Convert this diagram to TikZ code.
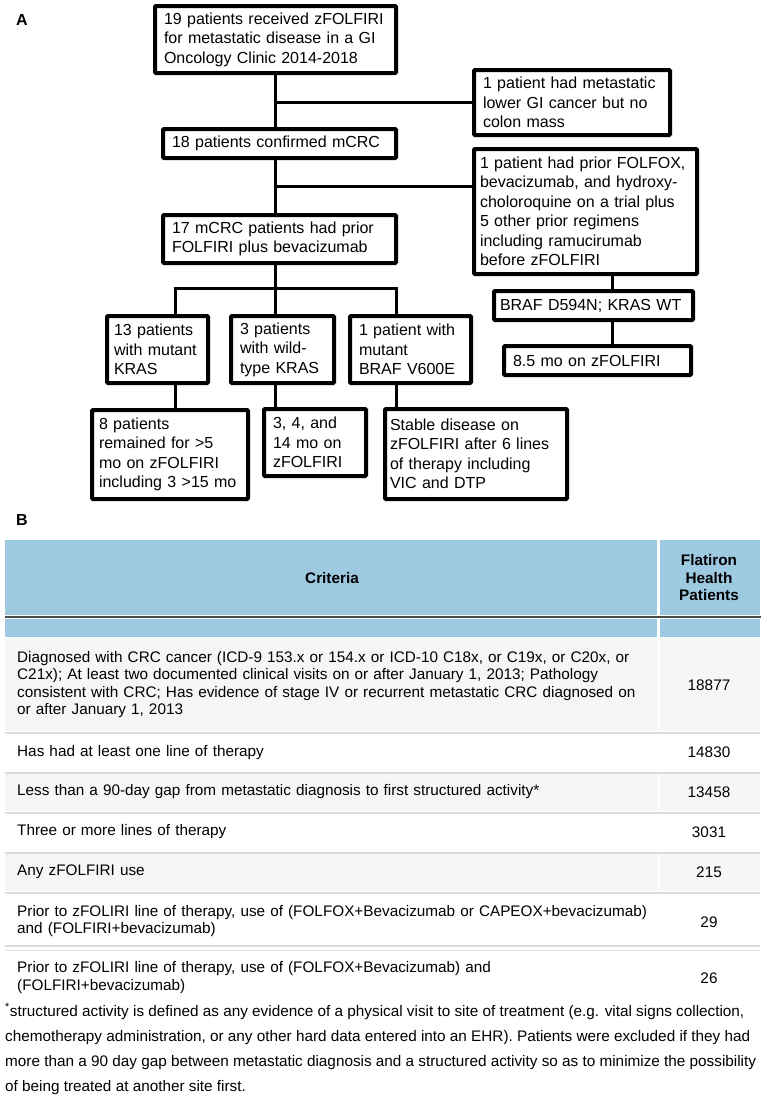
\documentclass[tikz,border=0pt]{standalone}
\usepackage{fontspec}
\setmainfont{Liberation Sans}
\usepackage{tikz}
\definecolor{headblue}{HTML}{9DC9E1}
\definecolor{rowgray}{HTML}{F6F6F6}
\definecolor{rulegray}{HTML}{DCDCDC}

\begin{document}
\begin{tikzpicture}[x=1pt,y=-1pt]
  \tikzstyle{FlowBox}=[draw,line width=4pt,rounded corners=1pt,fill=white,
    inner xsep=9pt,inner ysep=0pt,align=left,font=\fontsize{16}{19.5}\selectfont]
  \tikzstyle{Link}=[line width=3pt]
  \tikzstyle{Panel}=[inner sep=0pt,font=\fontsize{16}{19}\selectfont\bfseries]
  \tikzstyle{HeadText}=[inner sep=0pt,align=center,font=\fontsize{15.3}{17.5}\selectfont\bfseries]
  \tikzstyle{Cell}=[anchor=west,inner sep=0pt,align=left,text width=635pt,
    font=\fontsize{15.3}{17.5}\selectfont]
  \tikzstyle{Count}=[inner sep=0pt,font=\fontsize{15.3}{17.5}\selectfont]
  \tikzstyle{Note}=[anchor=base west,inner sep=0pt,font=\fontsize{15.3}{17.5}\selectfont]
  \useasboundingbox (0,0) rectangle (765,1114);

  % panel A: flow of patients
  \node[Panel] (labA) at (22,20) {A};
  \node[FlowBox,minimum width=241pt,minimum height=67pt,text width=223pt] (recv) at (275.5,39.5)
    {19 patients received zFOLFIRI\\for metastatic disease in a GI\\Oncology Clinic 2014-2018};
  \node[FlowBox,minimum width=196pt,minimum height=65pt,text width=178pt] (nomass) at (572,102.5)
    {1 patient had metastatic\\lower GI cancer but no\\colon mass};
  \node[FlowBox,minimum width=233pt,minimum height=29pt,text width=215pt] (conf) at (279.5,143.5)
    {18 patients confirmed mCRC};
  \node[FlowBox,minimum width=223pt,minimum height=125pt,text width=211pt,inner xsep=6pt] (prior) at (585.5,211.5)
    {1 patient had prior FOLFOX,\\bevacizumab, and hydroxy-\\choloroquine on a trial plus\\5 other prior regimens\\including ramucirumab\\before zFOLFIRI};
  \node[FlowBox,minimum width=233pt,minimum height=48pt,text width=215pt] (folfiri) at (279.5,239)
    {17 mCRC patients had prior\\FOLFIRI plus bevacizumab};
  \node[FlowBox,minimum width=101pt,minimum height=67pt,text width=87pt,inner xsep=7pt] (kras) at (157.5,349.5)
    {13 patients\\with mutant\\KRAS};
  \node[FlowBox,minimum width=103pt,minimum height=67pt,text width=85pt] (wt) at (282.5,349.5)
    {3 patients\\with wild-\\type KRAS};
  \node[FlowBox,minimum width=121pt,minimum height=67pt,text width=103pt] (braf) at (410.5,349.5)
    {1 patient with\\mutant\\BRAF V600E};
  \node[FlowBox,minimum width=156pt,minimum height=89pt,text width=142pt,inner xsep=7pt] (remain) at (170,454.5)
    {8 patients\\remained for >5\\mo on zFOLFIRI\\including 3 >15 mo};
  \node[FlowBox,minimum width=102pt,minimum height=67pt,text width=84pt] (mo) at (315,442.5)
    {3, 4, and\\14 mo on\\zFOLFIRI};
  \node[FlowBox,minimum width=182pt,minimum height=90pt,text width=172pt,inner xsep=5pt] (stable) at (476,454)
    {Stable disease on\\zFOLFIRI after 6 lines\\of therapy including\\VIC and DTP};
  \node[FlowBox,minimum width=199pt,minimum height=29pt,text width=187pt,inner xsep=6pt] (dsix) at (593.5,305.5)
    {BRAF D594N; KRAS WT};
  \node[FlowBox,minimum width=187pt,minimum height=29pt,text width=169pt] (moeight) at (597.5,360.5)
    {8.5 mo on zFOLFIRI};

  \coordinate (split) at (275.5,186);
  \coordinate (fork) at (275.5,288);
  \coordinate (forkL) at (175,288);
  \coordinate (forkR) at (396,288);
  \coordinate (side) at (612,276);
  \draw[Link] (recv.south) -- (recv.south |- conf.north);
  \draw[Link] (recv.south |- nomass.west) -- (nomass.west);
  \draw[Link] (recv.south |- conf.south) -- (recv.south |- folfiri.north);
  \draw[Link] (split) -- (split -| prior.west);
  \draw[Link] (recv.south |- folfiri.south) -- (fork);
  \draw[Link] (forkL |- kras.north) -- (forkL) -- (forkR) -- (forkR |- braf.north);
  \draw[Link] (fork) -- (fork |- wt.north);
  \draw[Link] (forkL |- kras.south) -- (forkL |- remain.north);
  \draw[Link] (fork |- wt.south) -- (fork |- mo.north);
  \draw[Link] (forkR |- braf.south) -- (forkR |- stable.north);
  \draw[Link] (side) -- (side |- dsix.north);
  \draw[Link] (side |- dsix.south) -- (side |- moeight.north);

  % panel B: selection table
  \node[Panel] (labB) at (22,520) {B};
  \fill[headblue] (5,540) rectangle (760,615);
  \fill[headblue] (5,619) rectangle (760,637);
  \draw[white,line width=2.5pt] (658.5,540) -- (658.5,637);
  \draw[black!70,line width=2pt] (5,617) -- (761,617);
  \foreach \top/\bot in {638/731,774/811,854/891}{
    \fill[rowgray] (5,\top) rectangle (760,\bot);
    \draw[white,line width=2pt] (658.5,\top) -- (658.5,\bot);
  }
  \foreach \y in {732.5,772.5,812.5,852.5,892.5}
    \draw[rulegray,line width=2pt] (5,\y) -- (760,\y);
  \draw[rulegray,line width=1.5pt] (5,946) -- (760,946);
  \draw[rulegray,line width=1.5pt] (5,950.5) -- (760,950.5);

  \node[HeadText] (crit) at (332,578) {Criteria};
  \node[HeadText] (flat) at (709,578) {Flatiron\\Health\\Patients};

  \node[Cell] (rowa) at (17,684.5) {Diagnosed with CRC cancer (ICD-9 153.x or 154.x or ICD-10 C18x, or C19x, or C20x, or\\C21x); At least two documented clinical visits on or after January 1, 2013; Pathology\\consistent with CRC; Has evidence of stage IV or recurrent metastatic CRC diagnosed on\\or after January 1, 2013};
  \node[Count] (numa) at (709,685) {18877};
  \node[Cell] (rowb) at (17,752.5) {Has had at least one line of therapy};
  \node[Count] (numb) at (709,752.5) {14830};
  \node[Cell] (rowc) at (17,792) {Less than a 90-day gap from metastatic diagnosis to first structured activity*};
  \node[Count] (numc) at (709,792) {13458};
  \node[Cell] (rowd) at (17,832) {Three or more lines of therapy};
  \node[Count] (numd) at (709,832) {3031};
  \node[Cell] (rowe) at (17,872) {Any zFOLFIRI use};
  \node[Count] (nume) at (709,872) {215};
  \node[Cell] (rowf) at (17,921) {Prior to zFOLIRI line of therapy, use of (FOLFOX+Bevacizumab or CAPEOX+bevacizumab)\\and (FOLFIRI+bevacizumab)};
  \node[Count] (numf) at (709,922) {29};
  \node[Cell] (rowg) at (17,977.5) {Prior to zFOLIRI line of therapy, use of (FOLFOX+Bevacizumab) and\\(FOLFIRI+bevacizumab)};
  \node[Count] (numg) at (709,978) {26};

  % footnote
  \node[Note] (notea) at (5,1016) {\textsuperscript{*}structured activity is defined as any evidence of a physical visit to site of treatment (e.g. vital signs collection,};
  \node[Note] (noteb) at (5,1041) {chemotherapy administration, or any other hard data entered into an EHR). Patients were excluded if they had};
  \node[Note] (notec) at (5,1066) {more than a 90 day gap between metastatic diagnosis and a structured activity so as to minimize the possibility};
  \node[Note] (noted) at (5,1091) {of being treated at another site first.};
\end{tikzpicture}
\end{document}
